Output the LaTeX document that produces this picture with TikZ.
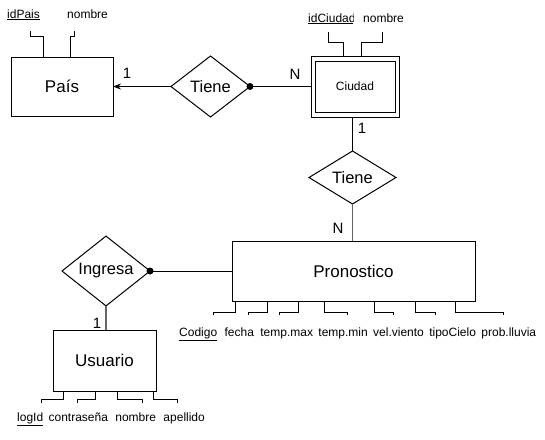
\documentclass[tikz,border=0pt]{standalone}
\usepackage{fontspec}
\setmainfont{Liberation Sans}
\usetikzlibrary{shapes.geometric,arrows.meta}
\tikzset{
  ent/.style={draw, line width=1pt, rectangle, inner sep=0pt, outer sep=0pt, font=\fontsize{17}{20}\selectfont},
  rel/.style={draw, line width=1pt, diamond, inner sep=0pt, outer sep=0pt, font=\fontsize{16.5}{19}\selectfont},
  attr/.style={inner sep=0pt, anchor=base west, font=\fontsize{12}{14}\selectfont},
  card/.style={inner sep=0pt, font=\fontsize{15}{17}\selectfont},
  conn/.style={line width=1pt},
  gconn/.style={line width=1.5pt, draw=black!60},
  aline/.style={line width=1pt},
}
\begin{document}
\begin{tikzpicture}[x=1pt,y=-1pt]
\useasboundingbox (0,0) rectangle (545,439);
% entities
\node[ent, minimum width=102pt, minimum height=59pt] (pais) at (62,86.5) {País};
\node[ent, minimum width=88pt, minimum height=61pt] (ciudad) at (355,86.5) {};
\node[ent, minimum width=80pt, minimum height=51pt, font=\fontsize{12}{14}\selectfont] (ciudadin) at (355,86.5) {Ciudad};
\node[ent, minimum width=243pt, minimum height=60pt] (pr) at (353.5,271) {Pronostico};
\node[ent, minimum width=103pt, minimum height=61pt] (us) at (104.5,360.5) {Usuario};
% relationships
\node[rel, minimum width=79pt, minimum height=61pt] (t1) at (210.5,86.5) {Tiene};
\node[rel, minimum width=87pt, minimum height=53pt] (t2) at (352.5,177.5) {Tiene};
\node[rel, minimum width=88pt, minimum height=54pt] (ing) at (106,271) {Ingresa};
% connectors
\draw[conn, -{Stealth[length=8pt,width=6pt]}] (t1.west) -- (pais.east);
\draw[conn] (t1.east) -- (ciudad.west);
\fill (t1.east) circle (3.5);
\draw[conn] (t2.north) -- (t2.north |- ciudad.south);
\draw[gconn] (t2.south) -- (t2.south |- pr.north);
\draw[conn] (ing.east) -- (pr.west |- ing.east);
\fill (ing.east) circle (3.5);
\draw[gconn] (ing.south) -- (ing.south |- us.north);
% cardinalities
\node[card] (c1) at (127,73) {1};
\node[card] (c2) at (295,74) {N};
\node[card] (c3) at (362,128) {1};
\node[card] (c4) at (338,228) {N};
\node[card] (c5) at (97,323) {1};
% attributes of País
\node[attr] (a1) at (7,18) {\underline{idPais}};
\node[attr] (a2) at (67,18) {nombre};
\draw[aline] (43,57) |- (30,36) -- (30,31);
\draw[aline] (70,57) |- (74,36) -- (74,31);
% attributes of Ciudad
\begin{scope}
\clip (300,5) rectangle (353,32);
\node[attr] (a3) at (308,22) {\underline{idCiudad}};
\end{scope}
\node[attr] (a4) at (363,22) {nombre};
\draw[aline] (343,56) |- (328,42) -- (328,32);
\draw[aline] (361,56) |- (382,42) -- (382,32);
% attributes of Pronostico
\node[attr] (p1) at (179,336) {\underline{Codigo}};
\node[attr] (p2) at ([xshift=7pt]p1.base east) {fecha};
\node[attr] (p3) at ([xshift=6pt]p2.base east) {temp.max};
\node[attr] (p4) at ([xshift=5pt]p3.base east) {temp.min};
\node[attr] (p5) at ([xshift=5pt]p4.base east) {vel.viento};
\node[attr] (p6) at ([xshift=5pt]p5.base east) {tipoCielo};
\node[attr] (p7) at ([xshift=5pt]p6.base east) {prob.lluvia};
\foreach \a/\b in {235/213, 267/248, 298/279, 324/347, 374/393, 415/435, 455/503}
  \draw[aline] (\a,301) |- (\b,312) -- (\b,315);
% attributes of Usuario
\node[attr] (u1) at (17,421) {\underline{logId}};
\node[attr] (u2) at ([xshift=5pt]u1.base east) {contraseña};
\node[attr] (u3) at ([xshift=7pt]u2.base east) {nombre};
\node[attr] (u4) at ([xshift=7pt]u3.base east) {apellido};
\foreach \a/\b in {63/41, 95/77, 117/142, 153/177}
  \draw[aline] (\a,391) |- (\b,399) -- (\b,403);
\end{tikzpicture}
\end{document}
